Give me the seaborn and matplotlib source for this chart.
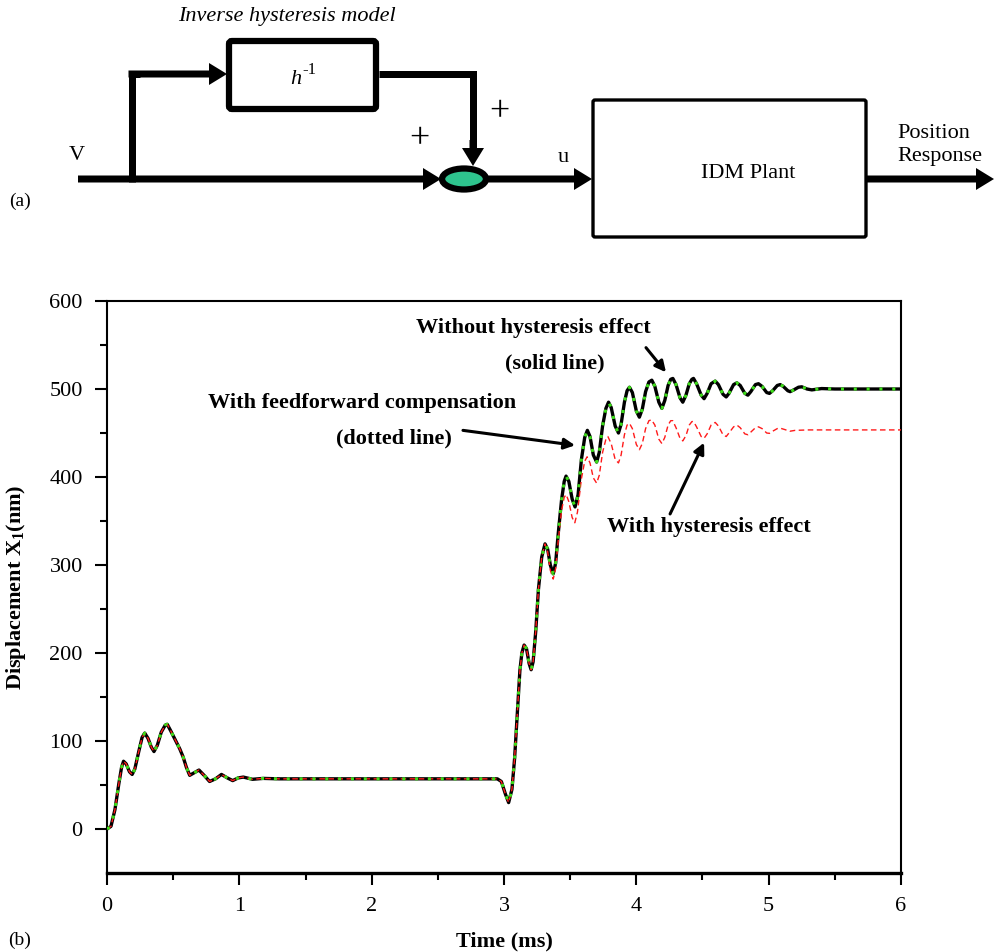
import numpy as np
import pandas as pd
import matplotlib
matplotlib.use("Agg")
import matplotlib.pyplot as plt
from matplotlib.patches import Ellipse, FancyArrow, FancyBboxPatch
import seaborn as sns

# ---- data (time in ms, displacement in nm) ----
t_ideal = [0.00, 0.03, 0.06, 0.09, 0.11, 0.125, 0.145, 0.17, 0.19, 0.21, 0.24, 0.265,
           0.285, 0.31, 0.335, 0.355, 0.38, 0.41, 0.44, 0.455, 0.48, 0.52, 0.55, 0.575,
           0.60, 0.625, 0.66, 0.695, 0.74, 0.775, 0.82, 0.865, 0.91, 0.95, 0.99, 1.03,
           1.10, 1.18, 1.30, 2.95, 2.98, 3.01, 3.035, 3.06, 3.08, 3.10, 3.12, 3.135,
           3.152, 3.17, 3.19, 3.205, 3.22, 3.24, 3.26, 3.285, 3.31, 3.33, 3.35, 3.372,
           3.39, 3.41, 3.435, 3.455, 3.469, 3.49, 3.515, 3.537, 3.56, 3.585, 3.61, 3.63,
           3.65, 3.675, 3.70, 3.72, 3.745, 3.77, 3.79, 3.81, 3.84, 3.865, 3.885, 3.91,
           3.93, 3.948, 3.97, 4.00, 4.023, 4.045, 4.07, 4.095, 4.117, 4.14, 4.17, 4.193,
           4.215, 4.24, 4.26, 4.276, 4.30, 4.33, 4.351, 4.375, 4.40, 4.42, 4.432, 4.455,
           4.49, 4.512, 4.535, 4.565, 4.596, 4.62, 4.655, 4.679, 4.70, 4.735, 4.76, 4.785,
           4.82, 4.843, 4.865, 4.90, 4.923, 4.95, 4.985, 5.006, 5.03, 5.065, 5.087, 5.11,
           5.145, 5.162, 5.19, 5.225, 5.25, 5.29, 5.326, 5.40, 5.50, 6.00]
x_ideal = [0, 3, 22, 52, 70, 77, 74, 65, 62, 68, 88, 104,
           109, 103, 93, 88, 95, 110, 118, 119, 112, 100, 91, 82,
           70, 61, 64, 67, 60, 54, 57, 62, 58, 55, 58, 59,
           56.5, 57.5, 57, 57, 54, 40, 30, 45, 80, 130, 180, 200,
           209, 205, 188, 181, 190, 225, 272, 309, 324, 318, 300, 290,
           302, 336, 374, 395, 401, 395, 375, 366, 380, 420, 445, 453,
           446, 425, 417, 428, 458, 478, 485, 479, 458, 450, 460, 485,
           498, 502, 496, 475, 468, 477, 497, 508, 510, 503, 485, 478,
           487, 504, 511, 512, 505, 490, 485, 493, 506, 511, 512, 506,
           493, 489, 495, 506, 509, 505, 494, 491, 495, 505, 507, 504,
           495, 493, 497, 505, 506, 503, 496, 495, 498, 504, 505, 503,
           498, 497, 499, 502, 502.5, 500, 499, 500.5, 500, 500]

# with feedforward compensation: visually identical to the ideal response
t_ff = list(t_ideal)
x_ff = list(x_ideal)

# with hysteresis: follows the ideal curve up to ~3.3 ms, then settles lower
t_hyst_tail = [3.33, 3.35, 3.372, 3.39, 3.41, 3.435, 3.455, 3.47, 3.49, 3.515, 3.535, 3.555,
               3.585, 3.61, 3.628, 3.65, 3.675, 3.70, 3.72, 3.745, 3.77, 3.785, 3.81, 3.84,
               3.865, 3.885, 3.91, 3.93, 3.948, 3.97, 4.00, 4.023, 4.045, 4.07, 4.095, 4.115,
               4.14, 4.17, 4.193, 4.215, 4.24, 4.26, 4.275, 4.30, 4.33, 4.351, 4.375, 4.40,
               4.42, 4.432, 4.455, 4.49, 4.512, 4.535, 4.565, 4.596, 4.62, 4.655, 4.679, 4.70,
               4.735, 4.76, 4.785, 4.82, 4.843, 4.865, 4.90, 4.923, 4.95, 4.985, 5.006, 5.03,
               5.065, 5.087, 5.12, 5.16, 5.20, 5.30, 6.00]
x_hyst_tail = [315, 294, 284, 296, 328, 362, 377, 380, 372, 354, 348, 360,
               398, 418, 423, 416, 399, 393, 402, 428, 443, 446, 438, 420,
               416, 425, 448, 459, 461, 455, 437, 431, 438, 455, 464, 465,
               459, 443, 438, 445, 459, 464, 464, 456, 444, 441, 447, 459,
               463, 463, 457, 446, 444, 449, 459, 462, 458, 448, 446, 450,
               457, 459, 456, 449, 448, 451, 456, 457, 455, 450, 449.6, 452,
               455, 455.5, 454, 452, 453, 453.5, 453.5]
head = [i for i, t in enumerate(t_ideal) if t < 3.33]
t_hyst = [t_ideal[i] for i in head] + t_hyst_tail
x_hyst = [x_ideal[i] for i in head] + x_hyst_tail

x_ticks = [0, 1, 2, 3, 4, 5, 6]
y_ticks = [0, 100, 200, 300, 400, 500, 600]

df_ideal = pd.DataFrame({"time": t_ideal, "disp": x_ideal})
df_ff = pd.DataFrame({"time": t_ff, "disp": x_ff})
df_hyst = pd.DataFrame({"time": t_hyst, "disp": x_hyst})

sns.set_style("ticks")
plt.rcParams["font.family"] = ["Liberation Serif", "DejaVu Serif"]
plt.rcParams["mathtext.fontset"] = "custom"
plt.rcParams["mathtext.rm"] = "Liberation Serif"
plt.rcParams["mathtext.it"] = "Liberation Serif:italic"
plt.rcParams["mathtext.bf"] = "Liberation Serif:bold"
for key in ["text.color", "axes.labelcolor", "xtick.color", "ytick.color",
            "axes.edgecolor"]:
    plt.rcParams[key] = "black"

W, H = 994, 952
fig = plt.figure(figsize=(W / 100, H / 100), dpi=100)
ax = fig.add_axes([107 / W, 1 - 873 / H, 794 / W, 572 / H])

sns.lineplot(data=df_ideal, x="time", y="disp", ax=ax, color="black", linewidth=2.4,
             sort=False, estimator=None, zorder=3)
sns.lineplot(data=df_hyst, x="time", y="disp", ax=ax, color="#ff1a1a", linewidth=1.0,
             sort=False, estimator=None, zorder=4)
ax.lines[-1].set_dashes([4, 2.5])
sns.lineplot(data=df_ff, x="time", y="disp", ax=ax, color="#3ddc1a", linewidth=2.2,
             sort=False, estimator=None, zorder=5)
ax.lines[-1].set_linestyle((0, (1, 3.2)))

ax.set_xlim(0, 6)
ax.set_ylim(-50, 600)
ax.set_xticks(x_ticks)
ax.set_yticks(y_ticks)
ax.set_xticks(np.arange(0.5, 6, 1), minor=True)
ax.set_yticks(np.arange(50, 600, 100), minor=True)
ax.tick_params(which="major", direction="out", length=8.5, width=1.5, pad=9,
               labelsize=16, colors="black")
ax.tick_params(which="minor", direction="out", length=5, width=1.5, colors="black")
ax.tick_params(top=False, right=False, which="both")
for side in ["left", "top", "right"]:
    ax.spines[side].set_linewidth(1.5)
ax.spines["bottom"].set_linewidth(2.4)

ax.set_xlabel("Time (ms)", fontsize=16, fontweight="bold")
ax.set_ylabel(r"Displacement X$_\mathbf{1}$(nm)", fontsize=16, fontweight="bold")
ax.xaxis.set_label_coords(0.5, -0.103)
ax.yaxis.set_label_coords(-0.099, 0.5)

bold = dict(fontsize=16, fontweight="bold", ha="center", va="center")
ax.text(3.219, 569, "Without hysteresis effect", **bold)
ax.text(3.386, 529, "(solid line)", **bold)
ax.text(1.927, 484, "With feedforward compensation", **bold)
ax.text(2.169, 444, "(dotted line)", **bold)
ax.text(4.549, 343, "With hysteresis effect", **bold)
arrow = dict(arrowstyle="-|>", lw=2.2, color="black", mutation_scale=16,
             shrinkA=0, shrinkB=0)
ax.annotate("", xy=(4.224, 519), xytext=(4.073, 547), arrowprops=arrow)
ax.annotate("", xy=(3.537, 436), xytext=(2.690, 453), arrowprops=arrow)
ax.annotate("", xy=(4.512, 439), xytext=(4.255, 358), arrowprops=arrow)

# ---- block diagram (a), drawn in figure pixel space ----
d = fig.add_axes([0, 0, 1, 1], zorder=-1)
d.set_xlim(0, W)
d.set_ylim(H, 0)
d.axis("off")
d.patch.set_alpha(0)

yl = 179
lw_px = 7


def arrow_to(x0, y0, x1, y1):
    d.add_patch(FancyArrow(x0, y0, x1 - x0, y1 - y0, width=lw_px, head_width=22,
                           head_length=18, length_includes_head=True,
                           color="black", lw=0))


arrow_to(78, yl, 441, yl)
d.plot([132, 132, 140], [yl + 3, 74, 74], color="black", lw=lw_px * 0.72,
       solid_joinstyle="miter", solid_capstyle="butt")
arrow_to(128.5, 74, 227, 74)
d.plot([379, 473, 473], [74, 74, 150], color="black", lw=lw_px * 0.72,
       solid_joinstyle="miter", solid_capstyle="butt")
arrow_to(473, 140, 473, 166)
arrow_to(488, yl, 592, yl)
arrow_to(866, yl, 994, yl)

d.add_patch(FancyBboxPatch((229, 41), 147, 68, boxstyle="round,pad=0,rounding_size=3",
                           fc="white", ec="black", lw=4.5))
d.add_patch(FancyBboxPatch((593, 100), 273, 137, boxstyle="round,pad=0,rounding_size=2",
                           fc="white", ec="black", lw=2.4))
d.add_patch(Ellipse((464, yl), 44, 21, fc="#2ec48e", ec="black", lw=4.5, zorder=5))

d.text(287, 17, "Inverse hysteresis model", fontsize=16, style="italic",
       ha="center", va="center")
d.text(301, 80, "h", fontsize=16, style="italic", ha="right", va="center")
d.text(302, 70, "-1", fontsize=12, ha="left", va="center")
d.text(748, 173, "IDM Plant", fontsize=16, ha="center", va="center")
d.text(897, 134, "Position", fontsize=16, ha="left", va="center")
d.text(897, 157, "Response", fontsize=16, ha="left", va="center")
d.text(77, 155, "V", fontsize=16, ha="center", va="center")
d.text(563, 157, "u", fontsize=16, ha="center", va="center")
d.text(419, 140, "+", fontsize=26, ha="center", va="center")
d.text(499, 113, "+", fontsize=26, ha="center", va="center")
d.text(20, 201, "(a)", fontsize=14, ha="center", va="center")
d.text(20, 940, "(b)", fontsize=14, ha="center", va="center")

fig.savefig("out.png", dpi=100)
